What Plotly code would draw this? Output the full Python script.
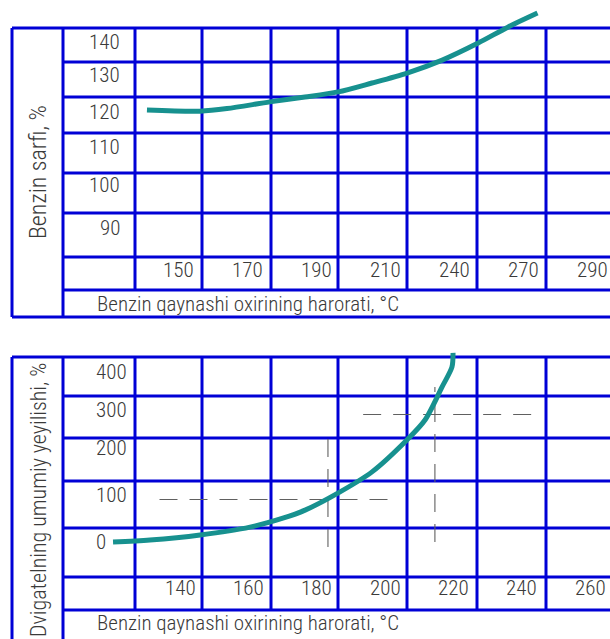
import numpy as np
import plotly.graph_objects as go

# ---------------- DATA ----------------
# Top panel: fuel consumption vs end-of-boiling temperature
top_x_ticks = [150, 170, 190, 210, 240, 270, 290]
top_y_ticks = [140, 130, 120, 110, 100, 90]
top_curve_t = [141, 156.4, 164.2, 176.6, 186.8, 196.4, 206.2, 219.6, 234.9, 250.5, 263.4, 274.2]
top_curve_v = [120.8, 120.5, 121.2, 123.0, 124.3, 125.7, 128.1, 130.8, 134.3, 138.9, 143.2, 147.0]

# Bottom panel: total engine wear vs end-of-boiling temperature
bot_x_ticks = [140, 160, 180, 200, 220, 240, 260]
bot_y_ticks = [400, 300, 200, 100, 0]
bot_curve_t = [120.4, 131.2, 145.9, 160.5, 170.1, 176.6, 186.2, 196.2, 206.4, 211.7, 216.7, 219.6, 219.9]
bot_curve_v = [0, 4.7, 16.5, 35, 56, 75, 115, 165, 240, 287, 365, 412, 445]

# Dashed guide lines (bottom panel), in data units
guide_h1_t = [134, 203]; guide_h1_v = [100, 100]
guide_v1_t = [183.3, 183.3]; guide_v1_v = [-12, 247]
guide_h2_t = [193.6, 244.8]; guide_h2_v = [300, 300]
guide_v2_t = [214.6, 214.6]; guide_v2_v = [0, 365]

x_title = "Benzin qaynashi oxirining harorati, °C"
top_y_title = "Benzin sarfi, %"
bot_y_title = "Dvigatelning umumiy yeyilishi, %"

# ---------------- LAYOUT HELPERS ----------------
W, H = 610, 639
BLUE = "#0000d6"
TEAL = "#17918f"
TXT = "#3a3a3a"
FONT = "Roboto Condensed, DejaVu Sans Condensed, sans-serif"

def px(x):
    return x / W

def py(y):
    return 1 - y / H

# top panel index scale (tick label column positions, with an empty leading column)
top_scale_vals = [130] + top_x_ticks
top_scale_idx = list(range(-1, len(top_x_ticks)))
top_curve_idx = np.interp(top_curve_t, top_scale_vals, top_scale_idx)

fig = go.Figure()

# grid / table lines
shapes = []
def hline(y, x0, x1):
    shapes.append(dict(type="line", xref="paper", yref="paper", x0=px(x0), x1=px(x1),
                       y0=py(y), y1=py(y), line=dict(color=BLUE, width=3), layer="below"))
def vline(x, y0, y1):
    shapes.append(dict(type="line", xref="paper", yref="paper", x0=px(x), x1=px(x),
                       y0=py(y0), y1=py(y1), line=dict(color=BLUE, width=3), layer="below"))

col_x = [135, 202, 271, 338, 407, 477, 546]
# top panel
for y in [28, 317]:
    hline(y, 12, 612)
for y in [62, 97, 133, 173, 213, 257, 290]:
    hline(y, 63, 612)
vline(12, 28, 317)
vline(63, 28, 317)
for x in col_x:
    vline(x, 28, 290)
# bottom panel
hline(357, 12, 612)
for y in [396, 438, 481, 528, 577, 610]:
    hline(y, 63, 612)
vline(12, 357, 645)
vline(63, 357, 645)
for x in col_x:
    vline(x, 357, 610)

# curves
fig.add_trace(go.Scatter(x=top_curve_idx, y=top_curve_v, mode="lines", xaxis="x", yaxis="y",
                         line=dict(color=TEAL, width=5, shape="spline", smoothing=0.8),
                         showlegend=False, hoverinfo="skip"))
for gt, gv in [(guide_h1_t, guide_h1_v), (guide_v1_t, guide_v1_v),
               (guide_h2_t, guide_h2_v), (guide_v2_t, guide_v2_v)]:
    fig.add_trace(go.Scatter(x=gt, y=gv, mode="lines", xaxis="x2", yaxis="y2",
                             line=dict(color="#606060", width=1.1, dash="18px,12px"),
                             showlegend=False, hoverinfo="skip"))
fig.add_trace(go.Scatter(x=bot_curve_t, y=bot_curve_v, mode="lines", xaxis="x2", yaxis="y2",
                         line=dict(color=TEAL, width=5, shape="spline", smoothing=0.8),
                         showlegend=False, hoverinfo="skip"))

TICKFONT = dict(family=FONT, size=21, color=TXT, weight=300)
ann = []
# x tick labels
for i, t in enumerate(top_x_ticks):
    ann.append(dict(x=i, y=py(270), xref="x", yref="paper", text=str(t), showarrow=False,
                    xanchor="center", yanchor="middle", font=TICKFONT))
for t in bot_x_ticks:
    ann.append(dict(x=t, y=py(588), xref="x2", yref="paper", text=str(t), showarrow=False,
                    xanchor="center", yanchor="middle", font=TICKFONT))
# y tick labels (placed in their table rows)
top_label_y = [42, 75, 112, 147, 185, 228]
for v, yy in zip(top_y_ticks, top_label_y):
    ann.append(dict(x=px(122), y=py(yy), xref="paper", yref="paper", text=str(v), showarrow=False,
                    xanchor="right", yanchor="middle", font=TICKFONT))
bot_label_y = [372, 410, 448, 495, 542]
for v, yy in zip(bot_y_ticks, bot_label_y):
    ann.append(dict(x=px(94), y=py(yy), xref="paper", yref="paper", text=str(v), showarrow=False,
                    xanchor="left", yanchor="middle", font=TICKFONT))
# axis titles
for yy in [304, 623]:
    ann.append(dict(x=px(95), y=py(yy), xref="paper", yref="paper", text=x_title, showarrow=False,
                    xanchor="left", yanchor="middle",
                    font=dict(family=FONT, size=21, color=TXT, weight=300)))
ann.append(dict(x=px(38), y=py(172), xref="paper", yref="paper", text=top_y_title, showarrow=False,
                textangle=-90, xanchor="center", yanchor="middle",
                font=dict(family=FONT, size=24, color=TXT, weight=300)))
ann.append(dict(x=px(38), y=py(500), xref="paper", yref="paper", text=bot_y_title, showarrow=False,
                textangle=-90, xanchor="center", yanchor="middle",
                font=dict(family=FONT, size=22, color=TXT, weight=300)))

fig.update_layout(
    width=W, height=H, margin=dict(l=0, r=0, t=0, b=0),
    paper_bgcolor="white", plot_bgcolor="white",
    shapes=shapes, annotations=ann, showlegend=False,
    xaxis=dict(domain=[0, 1], range=[-178 / 69, (W - 178) / 69], visible=False, fixedrange=True),
    yaxis=dict(domain=[0, 1], range=[115 + (131.5 - H) / 3.7, 115 + 131.5 / 3.7], visible=False, fixedrange=True),
    xaxis2=dict(domain=[0, 1], range=[140 - 180 / 3.417, 140 + (W - 180) / 3.417], visible=False,
                overlaying="x", anchor="y2", fixedrange=True),
    yaxis2=dict(domain=[0, 1], range=[(542 - H) / 0.425, 542 / 0.425], visible=False,
                overlaying="y", anchor="x2", fixedrange=True),
)

fig.write_html("out.html", config={"displayModeBar": False},
               post_script="document.body.style.margin='0';")
